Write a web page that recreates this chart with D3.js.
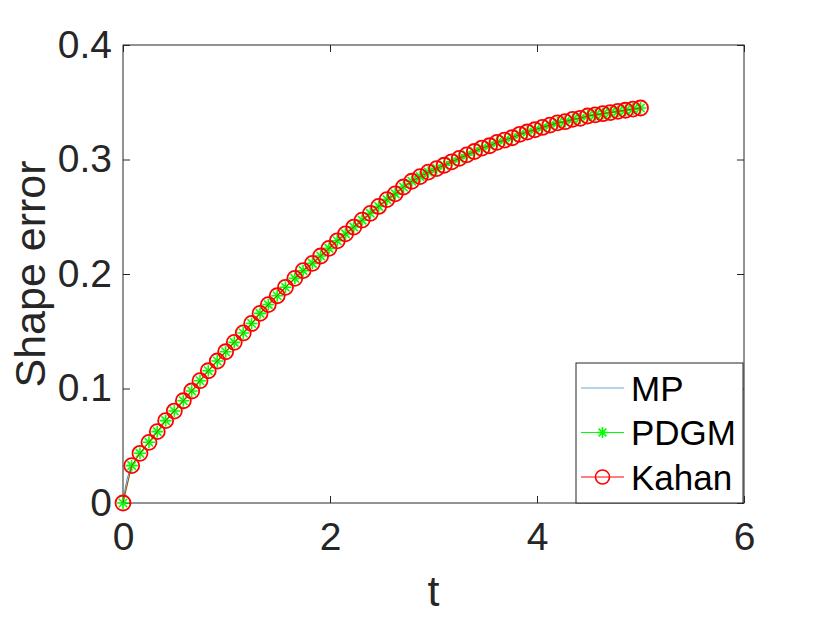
<!DOCTYPE html>
<html>
<head>
<meta charset="utf-8">
<title>Shape error</title>
<script src="https://cdnjs.cloudflare.com/ajax/libs/d3/7.8.5/d3.min.js"></script>
<style>
body { margin: 0; background: white; }
svg { display: block; font-family: "Liberation Sans", Arial, Helvetica, sans-serif; }
.tick text { fill: #262626; font-size: 39px; }
.tick line { stroke: #262626; }
.axis-label { fill: #262626; font-size: 43px; text-anchor: middle; }
.legend--frame { fill: white; stroke: #262626; stroke-width: 1; }
.legend--label { fill: black; font-size: 35px; }
</style>
</head>
<body>
<svg id="chart" width="822" height="617"></svg>
<script>
// marker times and values
var tVals = [0, 0.084, 0.164, 0.251, 0.331, 0.412, 0.496, 0.583, 0.664, 0.744, 0.824,
  0.911, 0.992, 1.075, 1.162, 1.243, 1.324, 1.404, 1.49, 1.57, 1.66, 1.74, 1.83, 1.91, 1.99,
  2.07, 2.15, 2.23, 2.31, 2.39, 2.47, 2.55, 2.63, 2.71, 2.79, 2.87, 2.95, 3.03,
  3.103, 3.176, 3.249, 3.322, 3.395, 3.468, 3.541, 3.614, 3.687, 3.76, 3.833, 3.906,
  3.979, 4.052, 4.125, 4.198, 4.271, 4.344, 4.417, 4.49, 4.563, 4.636, 4.709, 4.782,
  4.855, 4.928, 5.0];
var pdgmVals = [0, 0.0326, 0.0434, 0.053, 0.0623, 0.0719, 0.0803, 0.0893, 0.0978, 0.1068, 0.1155,
  0.124, 0.1321, 0.1403, 0.1485, 0.1568, 0.1656, 0.1733, 0.181, 0.1884, 0.1962, 0.2029, 0.2093, 0.2157, 0.2224,
  0.229, 0.235, 0.241, 0.247, 0.253, 0.259, 0.265, 0.27, 0.276, 0.281, 0.285, 0.289, 0.292,
  0.295, 0.298, 0.301, 0.304, 0.307, 0.31, 0.312, 0.315, 0.317, 0.319, 0.322, 0.324,
  0.326, 0.328, 0.33, 0.332, 0.333, 0.335, 0.336, 0.338, 0.339, 0.34, 0.341, 0.342,
  0.343, 0.344, 0.345];
var kahanVals = [0, 0.0326, 0.0434, 0.053, 0.0623, 0.0719, 0.0803, 0.0893, 0.0978, 0.1068, 0.1155,
  0.124, 0.1321, 0.1403, 0.1485, 0.1568, 0.1656, 0.1733, 0.181, 0.1884, 0.1962, 0.2029, 0.2093, 0.2157, 0.2224,
  0.229, 0.235, 0.241, 0.247, 0.253, 0.259, 0.265, 0.27, 0.276, 0.281, 0.285, 0.289, 0.292,
  0.295, 0.298, 0.301, 0.304, 0.307, 0.31, 0.312, 0.315, 0.317, 0.319, 0.322, 0.324,
  0.326, 0.328, 0.33, 0.332, 0.333, 0.335, 0.336, 0.338, 0.339, 0.34, 0.341, 0.342,
  0.343, 0.344, 0.345];
// MP is a plain line; it rises a bit faster right at the start
var mpEarlyT = [0, 0.02, 0.04, 0.06];
var mpEarlyVals = [0, 0.012, 0.021, 0.027];

var xTicks = [0, 2, 4, 6];
var xTickLabels = ["0", "2", "4", "6"];
var yTicks = [0, 0.1, 0.2, 0.3, 0.4];
var yTickLabels = ["0", "0.1", "0.2", "0.3", "0.4"];
var legendNames = ["MP", "PDGM", "Kahan"];
var palette = ["#0072bd", "#00ff00", "#ff0000"];

var pArea = [123, 45, 744, 503]; // left, top, right, bottom
var tickLen = 7;

var x = d3.scaleLinear().domain([0, 6]).range([pArea[0], pArea[2]]);
var y = d3.scaleLinear().domain([0, 0.4]).range([pArea[3], pArea[1]]);

var svg = d3.select("#chart");
svg.append("rect").attr("width", 822).attr("height", 617).attr("fill", "white");
var g = svg.append("g");

// axes, ticks pointing inward on all four sides
g.append("g")
  .attr("transform", `translate(0,${pArea[3]})`)
  .call(d3.axisBottom(x).tickValues(xTicks).tickSizeInner(-tickLen).tickSizeOuter(0)
    .tickPadding(19).tickFormat(function (d, i) { return xTickLabels[i]; }))
  .call(function (a) { a.select(".domain").remove(); });
g.append("g")
  .attr("transform", `translate(${pArea[0]},0)`)
  .call(d3.axisLeft(y).tickValues(yTicks).tickSizeInner(-tickLen).tickSizeOuter(0)
    .tickPadding(11).tickFormat(function (d, i) { return yTickLabels[i]; }))
  .call(function (a) { a.select(".domain").remove(); });
g.append("g")
  .attr("transform", `translate(0,${pArea[1]})`)
  .call(d3.axisTop(x).tickValues(xTicks).tickSizeInner(-tickLen).tickSizeOuter(0).tickFormat(""))
  .call(function (a) { a.select(".domain").remove(); });
g.append("g")
  .attr("transform", `translate(${pArea[2]},0)`)
  .call(d3.axisRight(y).tickValues(yTicks).tickSizeInner(-tickLen).tickSizeOuter(0).tickFormat(""))
  .call(function (a) { a.select(".domain").remove(); });
g.selectAll(".tick text").attr("font-family", null).attr("font-size", null);

g.append("rect")
  .attr("x", pArea[0]).attr("y", pArea[1])
  .attr("width", pArea[2] - pArea[0]).attr("height", pArea[3] - pArea[1])
  .attr("fill", "none").attr("stroke", "#262626").attr("stroke-width", 1);

g.append("text").attr("class", "axis-label")
  .attr("x", (pArea[0] + pArea[2]) / 2).attr("y", 606)
  .text("t");
g.append("text").attr("class", "axis-label")
  .attr("transform", `translate(45,${(pArea[1] + pArea[3]) / 2}) rotate(-90)`)
  .text("Shape error");

// series
var line = d3.line().x(function (d) { return x(d[0]); }).y(function (d) { return y(d[1]); });
var mpData = mpEarlyT.map(function (t, i) { return [t, mpEarlyVals[i]]; })
  .concat(tVals.slice(1).map(function (t, i) { return [t, pdgmVals[i + 1]]; }));
var pdgmData = tVals.map(function (t, i) { return [t, pdgmVals[i]]; });
var kahanData = tVals.map(function (t, i) { return [t, kahanVals[i]]; });

function starPath(s) {
  var d = s * 0.7071;
  return `M${-s},0L${s},0M0,${-s}L0,${s}M${-d},${-d}L${d},${d}M${-d},${d}L${d},${-d}`;
}

g.append("path").datum(mpData)
  .attr("fill", "none").attr("stroke", palette[0]).attr("stroke-width", 0.8)
  .attr("d", line);
g.append("path").datum(pdgmData)
  .attr("fill", "none").attr("stroke", palette[1]).attr("stroke-width", 0.8)
  .attr("d", line);
g.append("g").selectAll("path")
  .data(pdgmData).enter().append("path")
  .attr("transform", function (d) { return `translate(${x(d[0])},${y(d[1])})`; })
  .attr("d", starPath(6))
  .attr("fill", "none").attr("stroke", palette[1]).attr("stroke-width", 1.6);
g.append("path").datum(kahanData)
  .attr("fill", "none").attr("stroke", palette[2]).attr("stroke-width", 0.8)
  .attr("d", line);
g.append("g").selectAll("circle")
  .data(kahanData).enter().append("circle")
  .attr("cx", function (d) { return x(d[0]); })
  .attr("cy", function (d) { return y(d[1]); })
  .attr("r", 7.5)
  .attr("fill", "none").attr("stroke", palette[2]).attr("stroke-width", 1.8);

// legend
var legend = g.append("g").attr("transform", "translate(576,363)");
legend.append("rect").attr("class", "legend--frame")
  .attr("width", 167).attr("height", 140);
var items = legend.selectAll(".legend--item")
  .data(legendNames).enter().append("g")
  .attr("class", "legend--item")
  .attr("transform", function (d, i) { return `translate(0,${25 + i * 44.5})`; });
items.append("line")
  .attr("x1", 5).attr("x2", 48).attr("y1", 0).attr("y2", 0)
  .attr("stroke", function (d, i) { return palette[i]; })
  .attr("stroke-width", function (d, i) { return i === 0 ? 1.2 : 1; })
  .attr("stroke-opacity", function (d, i) { return i === 0 ? 0.6 : 1; });
items.filter(function (d, i) { return i === 1; }).append("path")
  .attr("transform", "translate(26.5,0)")
  .attr("d", starPath(5.5))
  .attr("fill", "none").attr("stroke", palette[1]).attr("stroke-width", 1.6);
items.filter(function (d, i) { return i === 2; }).append("circle")
  .attr("cx", 26.5).attr("cy", 0).attr("r", 7)
  .attr("fill", "none").attr("stroke", palette[2]).attr("stroke-width", 1.6);
items.append("text").attr("class", "legend--label")
  .attr("x", 55).attr("y", 0).attr("dy", "0.36em")
  .text(function (d) { return d; });
</script>
</body>
</html>
